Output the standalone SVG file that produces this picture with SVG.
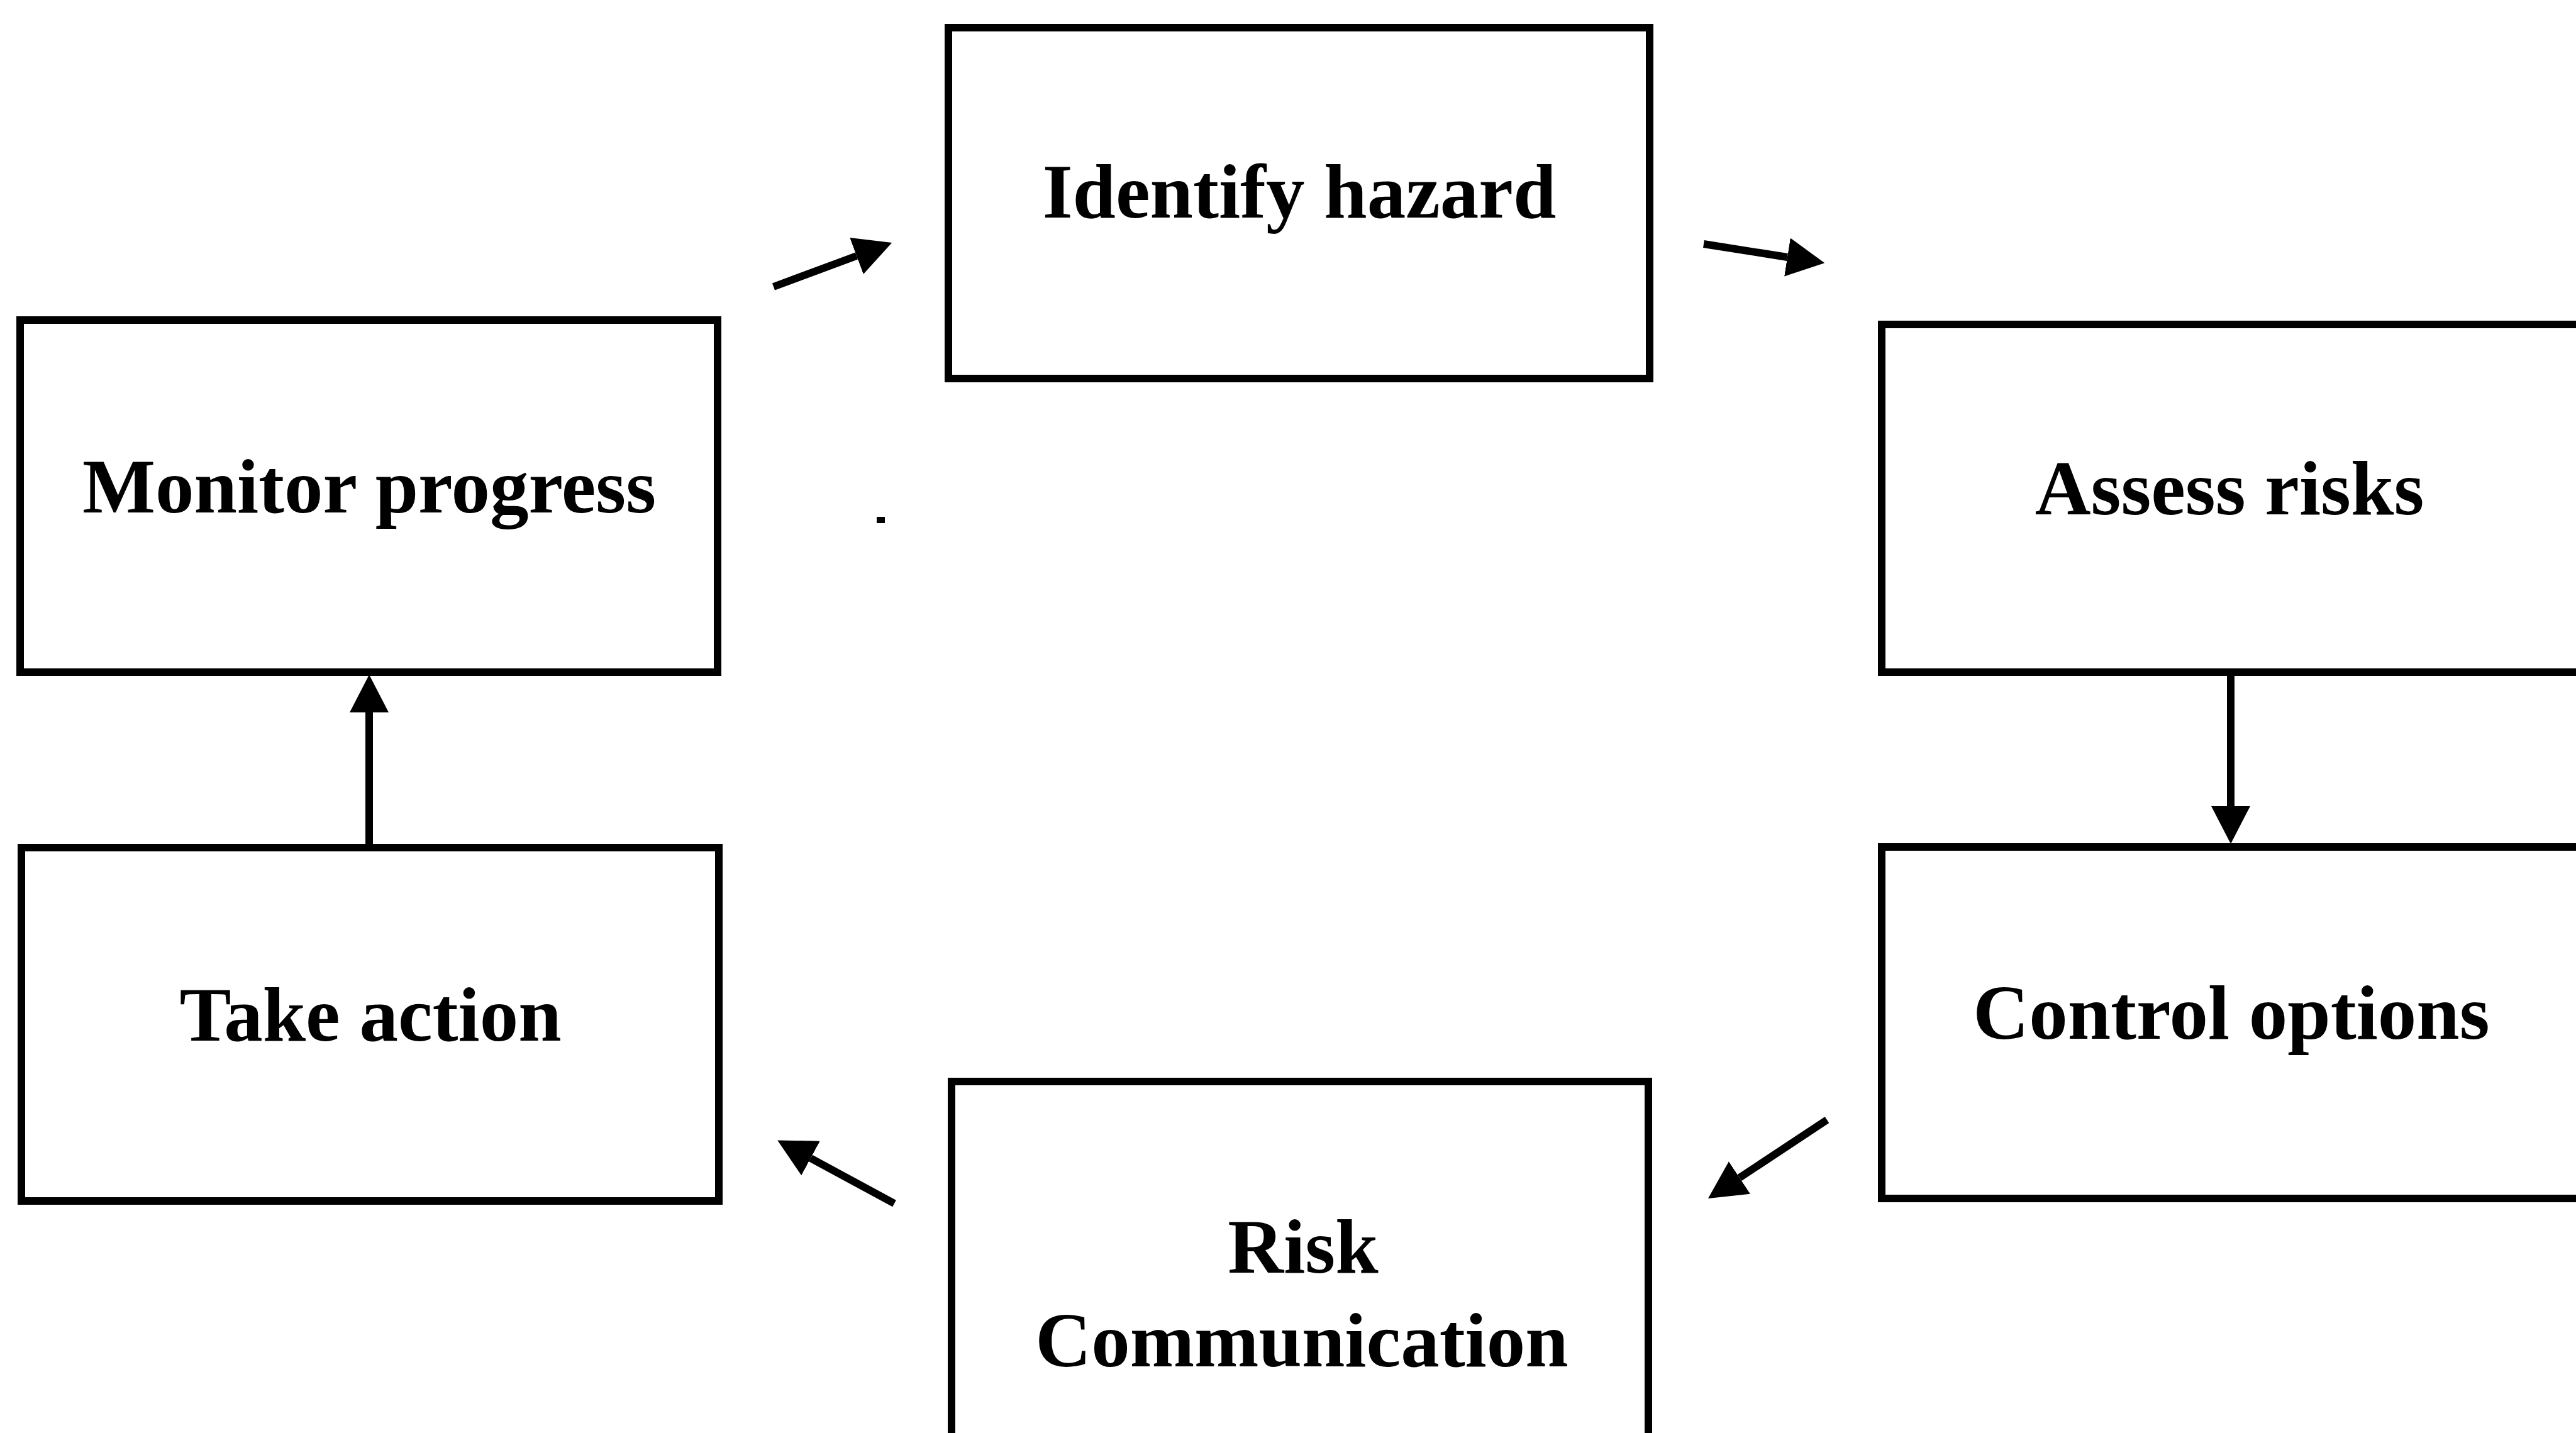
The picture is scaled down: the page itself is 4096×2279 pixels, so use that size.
<svg xmlns="http://www.w3.org/2000/svg" width="4096" height="2279" viewBox="0 0 4096 2279">
  <style>
    .box { fill: #ffffff; stroke: #000000; stroke-width: 12; }
    .label { font-family: "Liberation Serif", "Times New Roman", serif; font-weight: bold; font-size: 123px; fill: #000000; text-anchor: middle; }
    .conn { stroke: #000000; stroke-width: 12; fill: none; marker-end: url(#arrow); }
  </style>
  <defs>
    <marker id="arrow" viewBox="0 -31 60 62" markerWidth="60" markerHeight="62" refX="0" refY="0" markerUnits="userSpaceOnUse" orient="auto">
      <path d="M0,-31 L60,0 L0,31 Z" fill="#000000"/>
    </marker>
  </defs>
  <rect x="0" y="0" width="4096" height="2279" fill="#ffffff"/>

  <g id="identify-hazard">
    <rect class="box" x="1508" y="44" width="1115" height="558"/>
    <text class="label" x="2066" y="346">Identify hazard</text>
  </g>
  <g id="assess-risks">
    <rect class="box" x="2992" y="516" width="1130" height="553"/>
    <text class="label" x="3545" y="818">Assess risks</text>
  </g>
  <g id="control-options">
    <rect class="box" x="2992" y="1347" width="1130" height="559"/>
    <text class="label" x="3548" y="1652">Control options</text>
  </g>
  <g id="risk-communication">
    <rect class="box" x="1513" y="1720" width="1108" height="580"/>
    <text class="label" x="2072" y="2024">Risk</text>
    <text class="label" x="2070" y="2173">Communication</text>
  </g>
  <g id="take-action">
    <rect class="box" x="34" y="1348" width="1109" height="562"/>
    <text class="label" x="589" y="1655">Take action</text>
  </g>
  <g id="monitor-progress">
    <rect class="box" x="32" y="509" width="1109" height="560"/>
    <text class="label" x="587" y="815">Monitor progress</text>
  </g>

  <g id="connectors">
    <line class="conn" x1="1230" y1="456" x2="1362" y2="407"/>
    <line class="conn" x1="2709" y1="388" x2="2842" y2="409"/>
    <line class="conn" x1="3547" y1="1074" x2="3547" y2="1282"/>
    <line class="conn" x1="2905" y1="1781" x2="2766" y2="1873"/>
    <line class="conn" x1="1422" y1="1914" x2="1289" y2="1842"/>
    <line class="conn" x1="587" y1="1349" x2="587" y2="1133"/>
  </g>

  <rect x="1394" y="822" width="13" height="10" fill="#000000"/>
</svg>
